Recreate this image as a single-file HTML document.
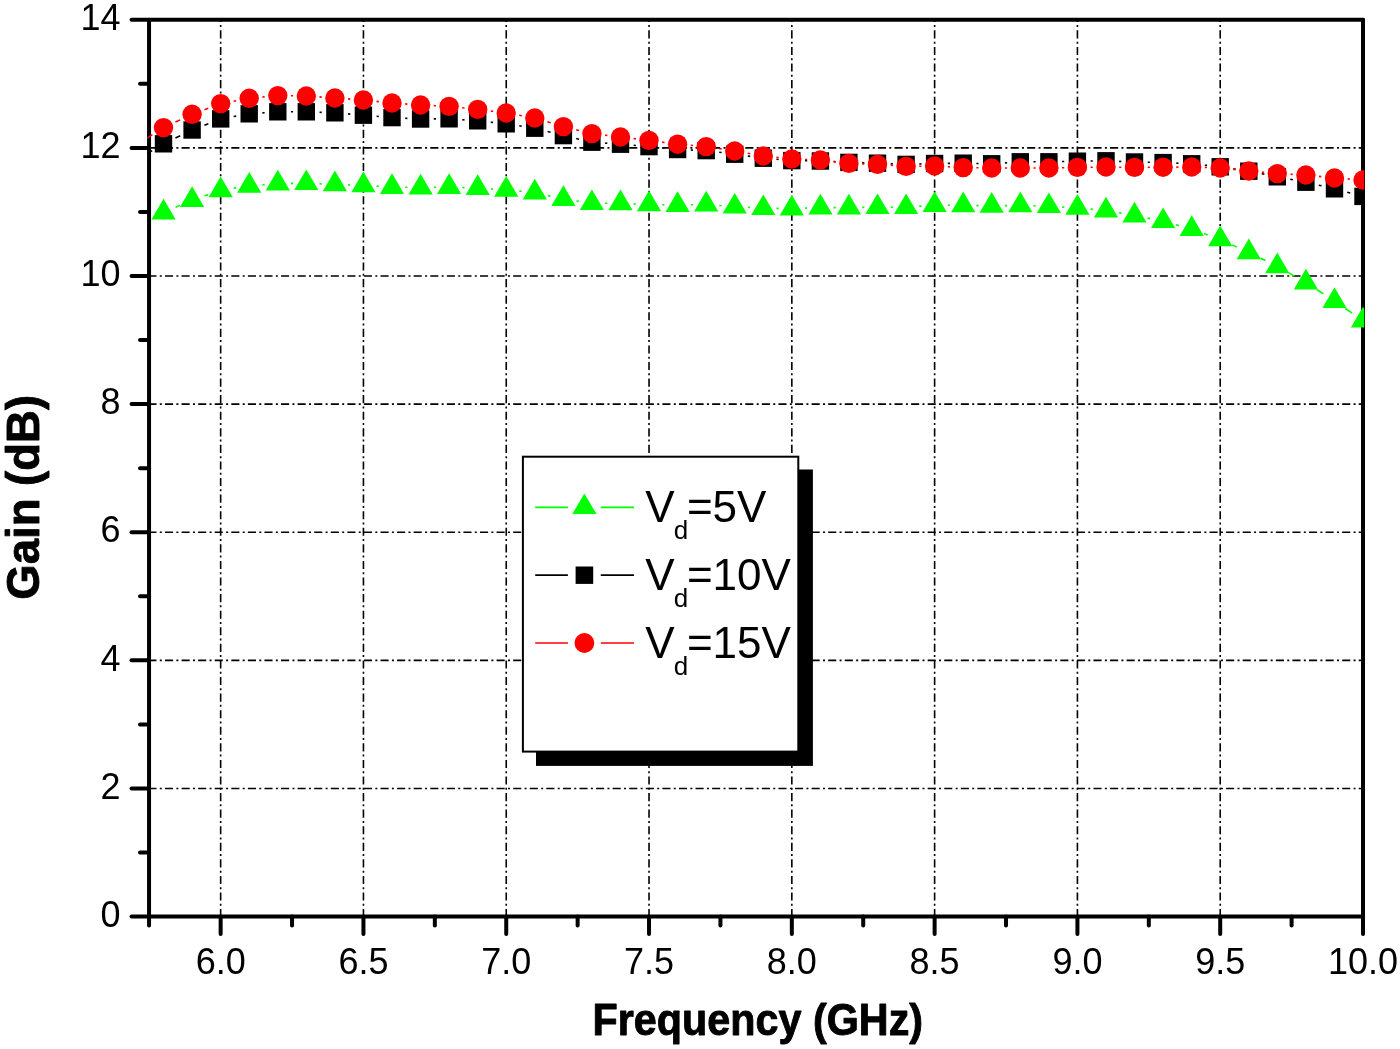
<!DOCTYPE html>
<html><head><meta charset="utf-8"><title>Gain vs Frequency</title>
<style>html,body{margin:0;padding:0;background:#fff;}svg{display:block;will-change:transform;}text{font-family:"Liberation Sans",sans-serif;fill:#000;}</style>
</head><body>
<svg width="1400" height="1049" viewBox="0 0 1400 1049">
<rect x="0" y="0" width="1400" height="1049" fill="#fff"/>
<defs><clipPath id="plot"><rect x="147.6" y="19.8" width="1216.7" height="896.9"/></clipPath></defs>
<g stroke="#000" stroke-width="1.6" stroke-dasharray="8.1 3.3 2 3.18" fill="none">
<line x1="148.40" y1="788.48" x2="1363.00" y2="788.48"/>
<line x1="148.40" y1="660.36" x2="1363.00" y2="660.36"/>
<line x1="148.40" y1="532.24" x2="1363.00" y2="532.24"/>
<line x1="148.40" y1="404.12" x2="1363.00" y2="404.12"/>
<line x1="148.40" y1="276.00" x2="1363.00" y2="276.00"/>
<line x1="148.40" y1="147.88" x2="1363.00" y2="147.88"/>
<line x1="220.65" y1="917.2" x2="220.65" y2="19.8"/>
<line x1="363.44" y1="917.2" x2="363.44" y2="19.8"/>
<line x1="506.24" y1="917.2" x2="506.24" y2="19.8"/>
<line x1="649.03" y1="917.2" x2="649.03" y2="19.8"/>
<line x1="791.83" y1="917.2" x2="791.83" y2="19.8"/>
<line x1="934.62" y1="917.2" x2="934.62" y2="19.8"/>
<line x1="1077.42" y1="917.2" x2="1077.42" y2="19.8"/>
<line x1="1220.21" y1="917.2" x2="1220.21" y2="19.8"/>
</g>
<g stroke="#000" stroke-width="4" fill="none" stroke-linecap="round">
<line x1="149.05" y1="19.75" x2="149.05" y2="925.50"/>
<line x1="1363.00" y1="19.75" x2="1363.00" y2="934.00"/>
<line x1="131.55" y1="19.75" x2="1363.00" y2="19.75"/>
<line x1="131.55" y1="916.60" x2="1363.00" y2="916.60"/>
</g>
<g stroke="#000" stroke-width="4" fill="none" stroke-linecap="round">
<line x1="140.05" y1="852.54" x2="149.05" y2="852.54"/>
<line x1="131.55" y1="788.48" x2="149.05" y2="788.48"/>
<line x1="140.05" y1="724.42" x2="149.05" y2="724.42"/>
<line x1="131.55" y1="660.36" x2="149.05" y2="660.36"/>
<line x1="140.05" y1="596.30" x2="149.05" y2="596.30"/>
<line x1="131.55" y1="532.24" x2="149.05" y2="532.24"/>
<line x1="140.05" y1="468.18" x2="149.05" y2="468.18"/>
<line x1="131.55" y1="404.12" x2="149.05" y2="404.12"/>
<line x1="140.05" y1="340.06" x2="149.05" y2="340.06"/>
<line x1="131.55" y1="276.00" x2="149.05" y2="276.00"/>
<line x1="140.05" y1="211.94" x2="149.05" y2="211.94"/>
<line x1="131.55" y1="147.88" x2="149.05" y2="147.88"/>
<line x1="140.05" y1="83.82" x2="149.05" y2="83.82"/>
<line x1="220.65" y1="916.60" x2="220.65" y2="934.00"/>
<line x1="292.05" y1="916.60" x2="292.05" y2="925.50"/>
<line x1="363.44" y1="916.60" x2="363.44" y2="934.00"/>
<line x1="434.84" y1="916.60" x2="434.84" y2="925.50"/>
<line x1="506.24" y1="916.60" x2="506.24" y2="934.00"/>
<line x1="577.64" y1="916.60" x2="577.64" y2="925.50"/>
<line x1="649.03" y1="916.60" x2="649.03" y2="934.00"/>
<line x1="720.43" y1="916.60" x2="720.43" y2="925.50"/>
<line x1="791.83" y1="916.60" x2="791.83" y2="934.00"/>
<line x1="863.23" y1="916.60" x2="863.23" y2="925.50"/>
<line x1="934.62" y1="916.60" x2="934.62" y2="934.00"/>
<line x1="1006.02" y1="916.60" x2="1006.02" y2="925.50"/>
<line x1="1077.42" y1="916.60" x2="1077.42" y2="934.00"/>
<line x1="1148.82" y1="916.60" x2="1148.82" y2="925.50"/>
<line x1="1220.21" y1="916.60" x2="1220.21" y2="934.00"/>
<line x1="1291.61" y1="916.60" x2="1291.61" y2="925.50"/>
</g>
<g font-size="36">
<text x="120.5" y="926.7" text-anchor="end">0</text>
<text x="120.5" y="798.6" text-anchor="end">2</text>
<text x="120.5" y="670.5" text-anchor="end">4</text>
<text x="120.5" y="542.3" text-anchor="end">6</text>
<text x="120.5" y="414.2" text-anchor="end">8</text>
<text x="120.5" y="286.1" text-anchor="end">10</text>
<text x="120.5" y="158.0" text-anchor="end">12</text>
<text x="120.5" y="29.9" text-anchor="end">14</text>
<text x="220.7" y="974.3" text-anchor="middle">6.0</text>
<text x="363.4" y="974.3" text-anchor="middle">6.5</text>
<text x="506.2" y="974.3" text-anchor="middle">7.0</text>
<text x="649.0" y="974.3" text-anchor="middle">7.5</text>
<text x="791.8" y="974.3" text-anchor="middle">8.0</text>
<text x="934.6" y="974.3" text-anchor="middle">8.5</text>
<text x="1077.4" y="974.3" text-anchor="middle">9.0</text>
<text x="1220.2" y="974.3" text-anchor="middle">9.5</text>
<text x="1363.0" y="974.3" text-anchor="middle">10.0</text>
</g>
<text transform="translate(757.8 1035.1) scale(0.95 1)" text-anchor="middle" font-size="43.5" font-weight="bold" stroke="#000" stroke-width="0.9" stroke-linejoin="round">Frequency (GHz)</text>
<text transform="translate(38.9 497.3) rotate(-90) scale(0.99 1)" text-anchor="middle" font-size="46" font-weight="bold" stroke="#000" stroke-width="0.9" stroke-linejoin="round">Gain (dB)</text>
<g clip-path="url(#plot)">
<g stroke="#00ff00" stroke-width="1.6" fill="none">
<line x1="175.62" y1="207.31" x2="180.00" y2="205.39"/>
<line x1="204.59" y1="195.85" x2="208.15" y2="194.65"/>
<line x1="233.68" y1="188.30" x2="236.18" y2="187.90"/>
<line x1="262.37" y1="184.79" x2="264.61" y2="184.61"/>
<line x1="290.97" y1="183.42" x2="293.13" y2="183.38"/>
<line x1="319.52" y1="183.75" x2="321.70" y2="183.85"/>
<line x1="348.08" y1="184.86" x2="350.25" y2="184.94"/>
<line x1="376.62" y1="186.14" x2="378.82" y2="186.26"/>
<line x1="405.20" y1="187.28" x2="407.37" y2="187.32"/>
<line x1="433.76" y1="187.32" x2="435.92" y2="187.28"/>
<line x1="462.31" y1="187.51" x2="464.49" y2="187.59"/>
<line x1="490.86" y1="188.88" x2="493.06" y2="189.02"/>
<line x1="519.38" y1="191.09" x2="521.66" y2="191.31"/>
<line x1="547.68" y1="195.49" x2="550.48" y2="196.11"/>
<line x1="576.42" y1="200.92" x2="578.86" y2="201.28"/>
<line x1="605.12" y1="203.29" x2="607.28" y2="203.31"/>
<line x1="633.67" y1="203.86" x2="635.84" y2="203.94"/>
<line x1="662.23" y1="204.68" x2="664.40" y2="204.72"/>
<line x1="690.79" y1="204.82" x2="692.95" y2="204.78"/>
<line x1="719.32" y1="205.57" x2="721.55" y2="205.73"/>
<line x1="747.89" y1="207.39" x2="750.09" y2="207.51"/>
<line x1="776.47" y1="208.38" x2="778.63" y2="208.42"/>
<line x1="805.02" y1="208.14" x2="807.20" y2="208.06"/>
<line x1="833.59" y1="207.60" x2="835.75" y2="207.60"/>
<line x1="862.15" y1="207.42" x2="864.31" y2="207.38"/>
<line x1="890.71" y1="207.20" x2="892.87" y2="207.20"/>
<line x1="919.23" y1="206.28" x2="921.46" y2="206.12"/>
<line x1="947.82" y1="205.29" x2="949.98" y2="205.31"/>
<line x1="976.38" y1="205.63" x2="978.55" y2="205.67"/>
<line x1="1004.94" y1="205.67" x2="1007.10" y2="205.63"/>
<line x1="1033.50" y1="205.77" x2="1035.67" y2="205.83"/>
<line x1="1062.04" y1="206.98" x2="1064.24" y2="207.12"/>
<line x1="1090.56" y1="209.14" x2="1092.84" y2="209.36"/>
<line x1="1118.99" y1="212.83" x2="1121.53" y2="213.27"/>
<line x1="1147.48" y1="218.08" x2="1150.15" y2="218.62"/>
<line x1="1175.82" y1="224.72" x2="1178.93" y2="225.58"/>
<line x1="1204.07" y1="233.58" x2="1207.80" y2="234.92"/>
<line x1="1232.23" y1="244.87" x2="1236.76" y2="246.93"/>
<line x1="1260.63" y1="258.21" x2="1265.48" y2="260.59"/>
<line x1="1288.81" y1="272.91" x2="1294.41" y2="276.09"/>
<line x1="1316.99" y1="289.75" x2="1323.35" y2="293.85"/>
<line x1="1345.33" y1="308.47" x2="1352.13" y2="313.13"/>
</g>
<g fill="#00ff00" stroke="none">
<path d="M163.5 198.8L175.6 219.5L151.4 219.5Z"/>
<path d="M192.1 186.3L204.2 207.0L180.0 207.0Z"/>
<path d="M220.7 176.6L232.8 197.3L208.6 197.3Z"/>
<path d="M249.2 172.0L261.3 192.7L237.1 192.7Z"/>
<path d="M277.8 169.8L289.9 190.5L265.7 190.5Z"/>
<path d="M306.3 169.4L318.4 190.1L294.2 190.1Z"/>
<path d="M334.9 170.6L347.0 191.3L322.8 191.3Z"/>
<path d="M363.4 171.6L375.5 192.3L351.3 192.3Z"/>
<path d="M392.0 173.2L404.1 193.9L379.9 193.9Z"/>
<path d="M420.6 173.8L432.7 194.5L408.5 194.5Z"/>
<path d="M449.1 173.2L461.2 193.9L437.0 193.9Z"/>
<path d="M477.7 174.3L489.8 195.0L465.6 195.0Z"/>
<path d="M506.2 176.0L518.3 196.7L494.1 196.7Z"/>
<path d="M534.8 178.8L546.9 199.5L522.7 199.5Z"/>
<path d="M563.4 185.2L575.5 205.9L551.3 205.9Z"/>
<path d="M591.9 189.4L604.0 210.1L579.8 210.1Z"/>
<path d="M620.5 189.6L632.6 210.3L608.4 210.3Z"/>
<path d="M649.0 190.6L661.1 211.3L636.9 211.3Z"/>
<path d="M677.6 191.2L689.7 211.9L665.5 211.9Z"/>
<path d="M706.2 190.8L718.3 211.5L694.1 211.5Z"/>
<path d="M734.7 192.9L746.8 213.6L722.6 213.6Z"/>
<path d="M763.3 194.4L775.4 215.1L751.2 215.1Z"/>
<path d="M791.8 194.8L803.9 215.5L779.7 215.5Z"/>
<path d="M820.4 193.8L832.5 214.5L808.3 214.5Z"/>
<path d="M848.9 193.8L861.0 214.5L836.8 214.5Z"/>
<path d="M877.5 193.4L889.6 214.1L865.4 214.1Z"/>
<path d="M906.1 193.4L918.2 214.1L894.0 214.1Z"/>
<path d="M934.6 191.4L946.7 212.1L922.5 212.1Z"/>
<path d="M963.2 191.6L975.3 212.3L951.1 212.3Z"/>
<path d="M991.7 192.1L1003.8 212.8L979.6 212.8Z"/>
<path d="M1020.3 191.6L1032.4 212.3L1008.2 212.3Z"/>
<path d="M1048.9 192.4L1061.0 213.1L1036.8 213.1Z"/>
<path d="M1077.4 194.1L1089.5 214.8L1065.3 214.8Z"/>
<path d="M1106.0 196.8L1118.1 217.5L1093.9 217.5Z"/>
<path d="M1134.5 201.7L1146.6 222.4L1122.4 222.4Z"/>
<path d="M1163.1 207.4L1175.2 228.1L1151.0 228.1Z"/>
<path d="M1191.7 215.3L1203.8 236.0L1179.6 236.0Z"/>
<path d="M1220.2 225.6L1232.3 246.3L1208.1 246.3Z"/>
<path d="M1248.8 238.6L1260.9 259.3L1236.7 259.3Z"/>
<path d="M1277.3 252.6L1289.4 273.3L1265.2 273.3Z"/>
<path d="M1305.9 268.8L1318.0 289.5L1293.8 289.5Z"/>
<path d="M1334.5 287.2L1346.6 307.9L1322.4 307.9Z"/>
<path d="M1363.0 306.8L1375.1 327.5L1350.9 327.5Z"/>
</g>
<g stroke="#000000" stroke-width="1.6" fill="none">
<line x1="146.28" y1="154.19" x2="152.22" y2="150.61"/>
<line x1="175.42" y1="138.06" x2="180.21" y2="135.74"/>
<line x1="204.39" y1="125.22" x2="208.35" y2="123.68"/>
<line x1="233.64" y1="116.58" x2="236.21" y2="116.12"/>
<line x1="262.38" y1="112.88" x2="264.60" y2="112.72"/>
<line x1="290.97" y1="111.80" x2="293.13" y2="111.80"/>
<line x1="319.52" y1="112.26" x2="321.69" y2="112.34"/>
<line x1="348.04" y1="113.91" x2="350.29" y2="114.09"/>
<line x1="376.60" y1="116.31" x2="378.85" y2="116.49"/>
<line x1="405.19" y1="118.25" x2="407.38" y2="118.35"/>
<line x1="433.76" y1="118.91" x2="435.92" y2="118.89"/>
<line x1="462.29" y1="119.72" x2="464.51" y2="119.88"/>
<line x1="490.81" y1="122.18" x2="493.11" y2="122.42"/>
<line x1="519.29" y1="125.81" x2="521.75" y2="126.19"/>
<line x1="547.58" y1="131.51" x2="550.58" y2="132.29"/>
<line x1="576.22" y1="138.57" x2="579.06" y2="139.23"/>
<line x1="605.08" y1="143.12" x2="607.31" y2="143.28"/>
<line x1="633.63" y1="145.31" x2="635.88" y2="145.49"/>
<line x1="662.17" y1="147.93" x2="664.46" y2="148.17"/>
<line x1="690.78" y1="150.01" x2="692.96" y2="150.09"/>
<line x1="719.25" y1="152.25" x2="721.62" y2="152.55"/>
<line x1="747.78" y1="156.03" x2="750.20" y2="156.37"/>
<line x1="776.42" y1="159.31" x2="778.68" y2="159.49"/>
<line x1="805.03" y1="160.78" x2="807.19" y2="160.82"/>
<line x1="833.57" y1="161.65" x2="835.76" y2="161.75"/>
<line x1="862.14" y1="162.77" x2="864.31" y2="162.83"/>
<line x1="890.70" y1="163.75" x2="892.88" y2="163.85"/>
<line x1="919.26" y1="163.98" x2="921.43" y2="163.92"/>
<line x1="947.82" y1="163.36" x2="949.98" y2="163.34"/>
<line x1="976.38" y1="163.48" x2="978.55" y2="163.52"/>
<line x1="1004.91" y1="162.88" x2="1007.13" y2="162.72"/>
<line x1="1033.50" y1="161.80" x2="1035.66" y2="161.80"/>
<line x1="1062.06" y1="161.52" x2="1064.22" y2="161.48"/>
<line x1="1090.62" y1="161.02" x2="1092.78" y2="160.98"/>
<line x1="1119.17" y1="161.35" x2="1121.35" y2="161.45"/>
<line x1="1147.74" y1="162.28" x2="1149.90" y2="162.32"/>
<line x1="1176.29" y1="163.15" x2="1178.47" y2="163.25"/>
<line x1="1204.78" y1="165.18" x2="1207.09" y2="165.42"/>
<line x1="1233.26" y1="168.81" x2="1235.73" y2="169.19"/>
<line x1="1261.73" y1="173.74" x2="1264.38" y2="174.26"/>
<line x1="1290.30" y1="179.25" x2="1292.92" y2="179.75"/>
<line x1="1318.75" y1="185.17" x2="1321.59" y2="185.83"/>
<line x1="1347.21" y1="192.19" x2="1350.25" y2="193.01"/>
</g>
<g fill="#000000" stroke="none">
<rect x="154.8" y="135.1" width="17.4" height="17.4"/>
<rect x="183.4" y="121.3" width="17.4" height="17.4"/>
<rect x="212.0" y="110.2" width="17.4" height="17.4"/>
<rect x="240.5" y="105.1" width="17.4" height="17.4"/>
<rect x="269.1" y="103.1" width="17.4" height="17.4"/>
<rect x="297.6" y="103.1" width="17.4" height="17.4"/>
<rect x="326.2" y="104.1" width="17.4" height="17.4"/>
<rect x="354.7" y="106.5" width="17.4" height="17.4"/>
<rect x="383.3" y="108.9" width="17.4" height="17.4"/>
<rect x="411.9" y="110.3" width="17.4" height="17.4"/>
<rect x="440.4" y="110.1" width="17.4" height="17.4"/>
<rect x="469.0" y="112.1" width="17.4" height="17.4"/>
<rect x="497.5" y="115.1" width="17.4" height="17.4"/>
<rect x="526.1" y="119.5" width="17.4" height="17.4"/>
<rect x="554.7" y="126.9" width="17.4" height="17.4"/>
<rect x="583.2" y="133.5" width="17.4" height="17.4"/>
<rect x="611.8" y="135.5" width="17.4" height="17.4"/>
<rect x="640.3" y="137.9" width="17.4" height="17.4"/>
<rect x="668.9" y="140.8" width="17.4" height="17.4"/>
<rect x="697.5" y="141.9" width="17.4" height="17.4"/>
<rect x="726.0" y="145.5" width="17.4" height="17.4"/>
<rect x="754.6" y="149.5" width="17.4" height="17.4"/>
<rect x="783.1" y="151.9" width="17.4" height="17.4"/>
<rect x="811.7" y="152.3" width="17.4" height="17.4"/>
<rect x="840.2" y="153.7" width="17.4" height="17.4"/>
<rect x="868.8" y="154.5" width="17.4" height="17.4"/>
<rect x="897.4" y="155.7" width="17.4" height="17.4"/>
<rect x="925.9" y="154.8" width="17.4" height="17.4"/>
<rect x="954.5" y="154.5" width="17.4" height="17.4"/>
<rect x="983.0" y="155.1" width="17.4" height="17.4"/>
<rect x="1011.6" y="153.1" width="17.4" height="17.4"/>
<rect x="1040.2" y="153.1" width="17.4" height="17.4"/>
<rect x="1068.7" y="152.5" width="17.4" height="17.4"/>
<rect x="1097.3" y="152.1" width="17.4" height="17.4"/>
<rect x="1125.8" y="153.3" width="17.4" height="17.4"/>
<rect x="1154.4" y="153.9" width="17.4" height="17.4"/>
<rect x="1183.0" y="155.1" width="17.4" height="17.4"/>
<rect x="1211.5" y="158.1" width="17.4" height="17.4"/>
<rect x="1240.1" y="162.5" width="17.4" height="17.4"/>
<rect x="1268.6" y="168.1" width="17.4" height="17.4"/>
<rect x="1297.2" y="173.5" width="17.4" height="17.4"/>
<rect x="1325.8" y="180.1" width="17.4" height="17.4"/>
<rect x="1354.3" y="187.7" width="17.4" height="17.4"/>
</g>
<g stroke="#ff0000" stroke-width="1.6" fill="none">
<line x1="146.12" y1="138.63" x2="152.38" y2="134.67"/>
<line x1="175.50" y1="122.03" x2="180.12" y2="119.87"/>
<line x1="204.45" y1="109.67" x2="208.29" y2="108.23"/>
<line x1="233.63" y1="101.19" x2="236.23" y2="100.71"/>
<line x1="262.35" y1="97.06" x2="264.63" y2="96.84"/>
<line x1="290.97" y1="95.78" x2="293.13" y2="95.82"/>
<line x1="319.49" y1="96.92" x2="321.72" y2="97.08"/>
<line x1="348.05" y1="98.92" x2="350.28" y2="99.08"/>
<line x1="376.57" y1="101.38" x2="378.88" y2="101.62"/>
<line x1="405.17" y1="103.92" x2="407.40" y2="104.08"/>
<line x1="433.75" y1="105.65" x2="435.94" y2="105.75"/>
<line x1="462.25" y1="107.78" x2="464.55" y2="108.02"/>
<line x1="490.78" y1="111.05" x2="493.14" y2="111.35"/>
<line x1="519.24" y1="115.28" x2="521.80" y2="115.72"/>
<line x1="547.44" y1="121.81" x2="550.72" y2="122.79"/>
<line x1="576.18" y1="129.74" x2="579.10" y2="130.46"/>
<line x1="605.02" y1="135.16" x2="607.37" y2="135.44"/>
<line x1="633.58" y1="138.56" x2="635.93" y2="138.84"/>
<line x1="662.12" y1="142.14" x2="664.51" y2="142.46"/>
<line x1="690.75" y1="145.31" x2="693.00" y2="145.49"/>
<line x1="719.20" y1="148.61" x2="721.67" y2="148.99"/>
<line x1="747.71" y1="153.28" x2="750.27" y2="153.72"/>
<line x1="776.40" y1="157.38" x2="778.70" y2="157.62"/>
<line x1="805.02" y1="159.46" x2="807.20" y2="159.54"/>
<line x1="833.50" y1="161.56" x2="835.84" y2="161.84"/>
<line x1="862.14" y1="163.86" x2="864.32" y2="163.94"/>
<line x1="890.67" y1="165.32" x2="892.90" y2="165.48"/>
<line x1="919.26" y1="166.22" x2="921.43" y2="166.18"/>
<line x1="947.80" y1="166.74" x2="950.00" y2="166.86"/>
<line x1="976.38" y1="167.78" x2="978.54" y2="167.82"/>
<line x1="1004.94" y1="168.00" x2="1007.10" y2="168.00"/>
<line x1="1033.50" y1="168.00" x2="1035.66" y2="168.00"/>
<line x1="1062.06" y1="167.72" x2="1064.22" y2="167.68"/>
<line x1="1090.62" y1="167.22" x2="1092.78" y2="167.18"/>
<line x1="1119.18" y1="167.18" x2="1121.34" y2="167.22"/>
<line x1="1147.74" y1="167.31" x2="1149.90" y2="167.29"/>
<line x1="1176.30" y1="167.11" x2="1178.46" y2="167.09"/>
<line x1="1204.85" y1="167.46" x2="1207.02" y2="167.54"/>
<line x1="1233.34" y1="169.38" x2="1235.65" y2="169.62"/>
<line x1="1261.92" y1="172.20" x2="1264.19" y2="172.40"/>
<line x1="1290.52" y1="174.25" x2="1292.71" y2="174.35"/>
<line x1="1319.02" y1="176.38" x2="1321.32" y2="176.62"/>
<line x1="1347.62" y1="178.92" x2="1349.84" y2="179.08"/>
</g>
<g fill="#ff0000" stroke="none">
<circle cx="163.5" cy="127.6" r="9.7"/>
<circle cx="192.1" cy="114.3" r="9.7"/>
<circle cx="220.7" cy="103.6" r="9.7"/>
<circle cx="249.2" cy="98.3" r="9.7"/>
<circle cx="277.8" cy="95.6" r="9.7"/>
<circle cx="306.3" cy="96.0" r="9.7"/>
<circle cx="334.9" cy="98.0" r="9.7"/>
<circle cx="363.4" cy="100.0" r="9.7"/>
<circle cx="392.0" cy="103.0" r="9.7"/>
<circle cx="420.6" cy="105.0" r="9.7"/>
<circle cx="449.1" cy="106.4" r="9.7"/>
<circle cx="477.7" cy="109.4" r="9.7"/>
<circle cx="506.2" cy="113.0" r="9.7"/>
<circle cx="534.8" cy="118.0" r="9.7"/>
<circle cx="563.4" cy="126.6" r="9.7"/>
<circle cx="591.9" cy="133.6" r="9.7"/>
<circle cx="620.5" cy="137.0" r="9.7"/>
<circle cx="649.0" cy="140.4" r="9.7"/>
<circle cx="677.6" cy="144.2" r="9.7"/>
<circle cx="706.2" cy="146.6" r="9.7"/>
<circle cx="734.7" cy="151.0" r="9.7"/>
<circle cx="763.3" cy="156.0" r="9.7"/>
<circle cx="791.8" cy="159.0" r="9.7"/>
<circle cx="820.4" cy="160.0" r="9.7"/>
<circle cx="848.9" cy="163.4" r="9.7"/>
<circle cx="877.5" cy="164.4" r="9.7"/>
<circle cx="906.1" cy="166.4" r="9.7"/>
<circle cx="934.6" cy="166.0" r="9.7"/>
<circle cx="963.2" cy="167.6" r="9.7"/>
<circle cx="991.7" cy="168.0" r="9.7"/>
<circle cx="1020.3" cy="168.0" r="9.7"/>
<circle cx="1048.9" cy="168.0" r="9.7"/>
<circle cx="1077.4" cy="167.4" r="9.7"/>
<circle cx="1106.0" cy="167.0" r="9.7"/>
<circle cx="1134.5" cy="167.4" r="9.7"/>
<circle cx="1163.1" cy="167.2" r="9.7"/>
<circle cx="1191.7" cy="167.0" r="9.7"/>
<circle cx="1220.2" cy="168.0" r="9.7"/>
<circle cx="1248.8" cy="171.0" r="9.7"/>
<circle cx="1277.3" cy="173.6" r="9.7"/>
<circle cx="1305.9" cy="175.0" r="9.7"/>
<circle cx="1334.5" cy="178.0" r="9.7"/>
<circle cx="1363.0" cy="180.0" r="9.7"/>
</g>
</g>
<rect x="536.0" y="469.5" width="276.9" height="296.4" fill="#000"/>
<rect x="522.9" y="456.7" width="275.4" height="294.9" fill="#fff" stroke="#000" stroke-width="2"/>
<line x1="535.2" y1="507.3" x2="567.9" y2="507.3" stroke="#00ff00" stroke-width="1.7"/>
<line x1="600.8" y1="507.3" x2="634" y2="507.3" stroke="#00ff00" stroke-width="1.7"/>
<path d="M584.4 493.4L596.5 514.0L572.3 514.0Z" fill="#00ff00"/>
<text x="645.3" y="521.8" font-size="44">V</text>
<text x="673.7" y="538.8" font-size="26">d</text>
<text x="686.9" y="521.8" font-size="44">=5V</text>
<line x1="535.2" y1="575.2" x2="567.9" y2="575.2" stroke="#000000" stroke-width="1.7"/>
<line x1="600.8" y1="575.2" x2="634" y2="575.2" stroke="#000000" stroke-width="1.7"/>
<rect x="575.6" y="566.5" width="17.6" height="17.4" fill="#000000"/>
<text x="645.3" y="589.7" font-size="44">V</text>
<text x="673.7" y="606.7" font-size="26">d</text>
<text x="686.9" y="589.7" font-size="44">=10V</text>
<line x1="535.2" y1="643.0" x2="567.9" y2="643.0" stroke="#ff0000" stroke-width="1.7"/>
<line x1="600.8" y1="643.0" x2="634" y2="643.0" stroke="#ff0000" stroke-width="1.7"/>
<circle cx="584.4" cy="643.0" r="9.9" fill="#ff0000"/>
<text x="645.3" y="657.5" font-size="44">V</text>
<text x="673.7" y="674.5" font-size="26">d</text>
<text x="686.9" y="657.5" font-size="44">=15V</text>
</svg></body></html>
